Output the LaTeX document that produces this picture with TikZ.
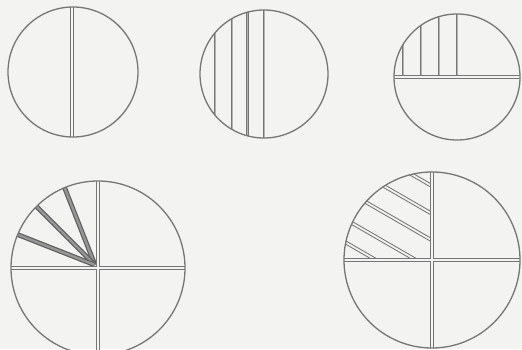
\documentclass[tikz,border=0pt]{standalone}
\usepackage{tikz}
\usepackage{xcolor}
\definecolor{ink}{HTML}{767676}
\definecolor{paper}{HTML}{F3F3F1}
\definecolor{shade}{HTML}{5E5E5E}

\begin{document}
\begin{tikzpicture}[x=1pt, y=1pt,
    rim/.style={draw=ink, line width=1.3pt},
    cut/.style={draw=ink, line width=1.1pt, double=paper, double distance=1.6pt},
    chord/.style={draw=ink, line width=0.9pt, double=ink!55, double distance=0.6pt},
    band/.style={draw=ink, line width=1pt, double=paper, double distance=1.8pt},
    wedge/.style={draw=shade, line width=1.2pt, double=shade!65, double distance=2.4pt}]

  % page
  \fill[paper] (0,0) rectangle (522,349);
  \useasboundingbox (0,0) rectangle (522,349);
  \clip (0,0) rectangle (522,349);

  % centres
  \coordinate (c1) at (73,277);
  \coordinate (c2) at (264,275);
  \coordinate (c3) at (457,272);
  \coordinate (c4) at (98,81);
  \coordinate (c5) at (432,89);

  % circle 1: two halves
  \begin{scope}[shift={(c1)}]
    \begin{scope}
      \clip (0,0) circle (65);
      \draw[cut] (-1,70) -- (-1,-70);
    \end{scope}
    \draw[rim] (0,0) circle (65);
  \end{scope}

  % circle 2: one half cut in four strips
  \begin{scope}[shift={(c2)}]
    \begin{scope}
      \clip (0,0) circle (64);
      \draw[chord, line width=1.1pt] (0,70) -- (0,-70);
      \foreach \xa in {-16.5,-32,-49}
        \draw[chord] (\xa,70) -- (\xa,-70);
    \end{scope}
    \draw[rim] (0,0) circle (64);
  \end{scope}

  % circle 3: upper half cut in four strips
  \begin{scope}[shift={(c3)}]
    \begin{scope}
      \clip (0,0) circle (63);
      \draw[chord] (0,70) -- (0,0)
        (-18,70) -- (-18,0) (-36,70) -- (-36,0) (-54,70) -- (-54,0);
      \draw[cut] (-70,0) -- (70,0);
    \end{scope}
    \draw[rim] (0,0) circle (63);
  \end{scope}

  % circle 4: quarters, one quarter in four wedges
  \begin{scope}[shift={(c4)}]
    \begin{scope}
      \clip (0,0) circle (87);
      \foreach \ang in {112.5,135,157.5}
        \draw[wedge] (-3,3) -- (\ang:95);
      \draw[cut] (0,95) -- (0,-95) (-95,0) -- (95,0);
    \end{scope}
    \draw[rim] (0,0) circle (87);
  \end{scope}

  % circle 5: quarters, one quarter in slanted strips
  \begin{scope}[shift={(c5)}]
    \begin{scope}
      \clip (0,0) -- (-88,0) arc[start angle=180, end angle=90, radius=88] -- cycle;
      \foreach \k in {64,40,17,-8,-28}
        \draw[band] ({\k*0.5-110*0.866},{\k*0.866+110*0.5}) -- ({\k*0.5+110*0.866},{\k*0.866-110*0.5});
    \end{scope}
    \begin{scope}
      \clip (0,0) circle (88);
      \draw[cut] (0,95) -- (0,-95) (-95,0) -- (95,0);
    \end{scope}
    \draw[rim] (0,0) circle (88);
  \end{scope}
\end{tikzpicture}
\end{document}
